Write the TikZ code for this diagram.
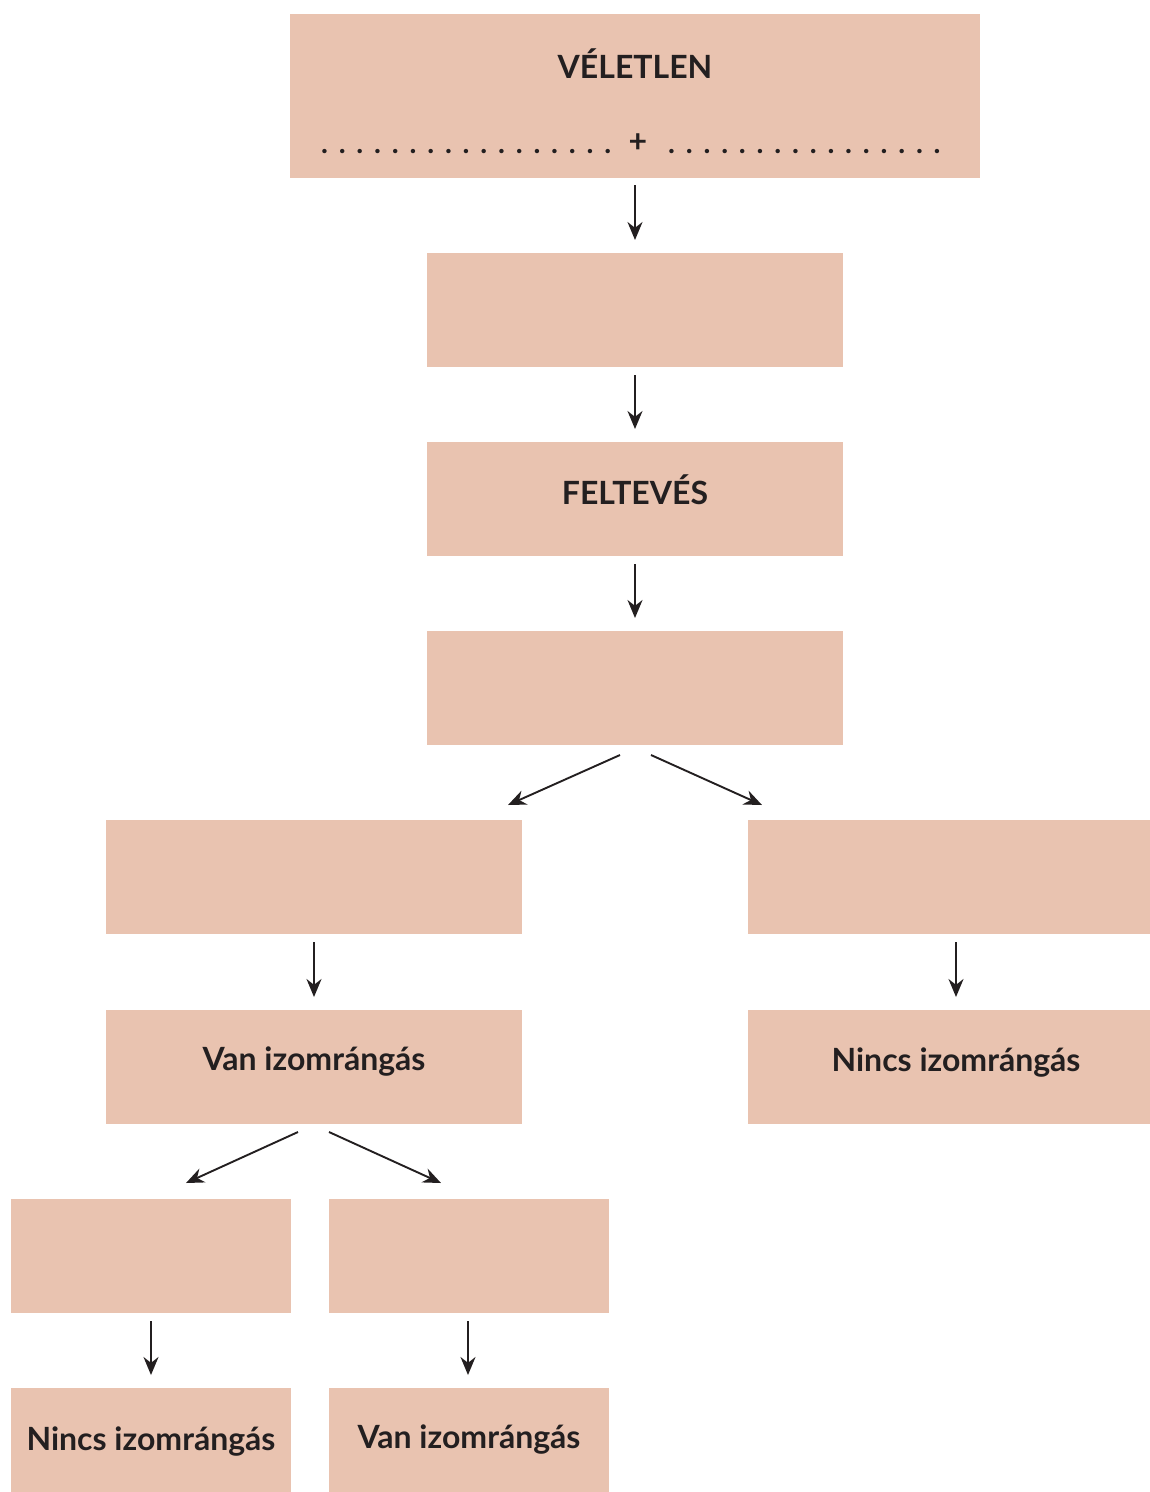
\documentclass[tikz,border=0pt]{standalone}
\usepackage{fontspec}
\setmainfont{Lato}
\usetikzlibrary{arrows.meta}
\definecolor{boxfill}{RGB}{233,195,176}
\definecolor{ink}{RGB}{35,31,32}
\newcommand{\mydots}[1]{\foreach \i in {1,...,#1}{.\hspace{10.8pt}}\hspace{-10.8pt}}
\begin{document}
\begin{tikzpicture}[x=1pt,y=1pt,
  box/.style={fill=boxfill,draw=none,inner sep=0pt,outer sep=0pt},
  lbl/.style={font=\fontsize{32}{36}\selectfont\bfseries,text=ink,inner sep=0pt},
  dotlbl/.style={font=\fontsize{29}{32}\selectfont\bfseries,text=ink,inner sep=0pt},
  arr/.style={draw=ink,line width=1.9pt,-{Stealth[length=18pt,width=15pt]}}]
\useasboundingbox (0,0) rectangle (1150,-1492);
% boxes
\node[box,minimum width=690pt,minimum height=164pt] (b1) at (635,-96) {};
\node[box,minimum width=416pt,minimum height=114pt] (b2) at (635,-310) {};
\node[box,minimum width=416pt,minimum height=114pt] (b3) at (635,-499) {};
\node[box,minimum width=416pt,minimum height=114pt] (b4) at (635,-688) {};
\node[box,minimum width=416pt,minimum height=114pt] (b5) at (314,-877) {};
\node[box,minimum width=402pt,minimum height=114pt] (b6) at (949,-877) {};
\node[box,minimum width=416pt,minimum height=114pt] (b7) at (314,-1067) {};
\node[box,minimum width=402pt,minimum height=114pt] (b8) at (949,-1067) {};
\node[box,minimum width=280pt,minimum height=114pt] (b9) at (151,-1256) {};
\node[box,minimum width=280pt,minimum height=114pt] (b10) at (469,-1256) {};
\node[box,minimum width=280pt,minimum height=104pt] (b11) at (151,-1440) {};
\node[box,minimum width=280pt,minimum height=104pt] (b12) at (469,-1440) {};
% labels
\node[lbl] (t1) at (635,-64) {VÉLETLEN};
\node[dotlbl,anchor=base east] (dl) at (622,-153) {\mydots{17}};
\node[lbl] (plus) at (638,-143) {+};
\node[dotlbl,anchor=base west] (dr) at (668,-153) {\mydots{16}};
\node[lbl] (t3) at (635,-490) {FELTEVÉS};
\node[lbl] (t7) at (314,-1062) {Van izomrángás};
\node[lbl] (t8) at (956,-1063) {Nincs izomrángás};
\node[lbl] (t11) at (151,-1442) {Nincs izomrángás};
\node[lbl] (t12) at (469,-1440) {Van izomrángás};
% arrows
\draw[arr] ([yshift=-7pt]b1.south) -- ([yshift=13pt]b2.north);
\draw[arr] ([yshift=-8pt]b2.south) -- ([yshift=13pt]b3.north);
\draw[arr] ([yshift=-8pt]b3.south) -- ([yshift=13pt]b4.north);
\draw[arr] ([shift={(-15,-10)}]b4.south) -- ([shift={(-14,15)}]b5.north east);
\draw[arr] ([shift={(16,-10)}]b4.south) -- ([shift={(14,15)}]b6.north west);
\draw[arr] ([yshift=-8pt]b5.south) -- ([yshift=13pt]b7.north);
\draw[arr] ([shift={(7,-8)}]b6.south) -- ([shift={(7,13)}]b8.north);
\draw[arr] ([shift={(-16,-8)}]b7.south) -- ([shift={(35,16)}]b9.north);
\draw[arr] ([shift={(15,-8)}]b7.south) -- ([shift={(-28,16)}]b10.north);
\draw[arr] ([yshift=-8pt]b9.south) -- ([yshift=13pt]b11.north);
\draw[arr] ([shift={(-1,-8)}]b10.south) -- ([shift={(-1,13)}]b12.north);
\end{tikzpicture}
\end{document}
